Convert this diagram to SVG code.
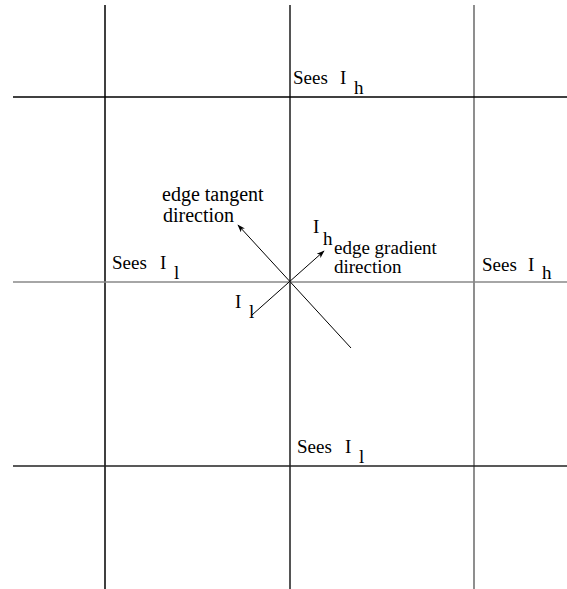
<svg xmlns="http://www.w3.org/2000/svg" width="567" height="589" viewBox="0 0 567 589">
<defs>
<style>
text{font-family:"Liberation Serif","Times New Roman",serif;font-size:19px;fill:#000}
.big{font-size:20px}
.ln{fill:none}
</style>
<marker id="ah" viewBox="0 0 10 10" refX="9" refY="5" markerWidth="8" markerHeight="8" orient="auto" markerUnits="userSpaceOnUse">
<path d="M0,1.5 L10,5 L0,8.5 L2.5,5 Z" fill="#000"/>
</marker>
</defs>
<rect width="567" height="589" fill="#fff"/>
<g id="grid" class="ln">
<line x1="105" y1="5" x2="105" y2="589" stroke="#000" stroke-width="1.5"/>
<line x1="290" y1="5" x2="290" y2="589" stroke="#555" stroke-width="2"/>
<line x1="474" y1="5" x2="474" y2="589" stroke="#444" stroke-width="1.2"/>
<line x1="13" y1="97" x2="567" y2="97" stroke="#000" stroke-width="1.5"/>
<line x1="13" y1="282" x2="567" y2="282" stroke="#888" stroke-width="1.5"/>
<line x1="13" y1="466" x2="567" y2="466" stroke="#222" stroke-width="1.5"/>
</g>
<g id="connectors" class="ln" stroke="#000" stroke-width="1">
<line x1="351" y1="348" x2="238" y2="225" marker-end="url(#ah)"/>
<line x1="252" y1="315" x2="324" y2="251" marker-end="url(#ah)"/>
</g>
<g id="label-top"><text x="293" y="84">Sees</text><text x="340" y="84">I</text><text x="354" y="94">h</text></g>
<g id="label-left"><text x="112" y="269">Sees</text><text x="160" y="269">I</text><text x="174" y="279">l</text></g>
<g id="label-right"><text x="482" y="271">Sees</text><text x="528" y="271">I</text><text x="542" y="279">h</text></g>
<g id="label-bottom"><text x="297" y="453">Sees</text><text x="345" y="453">I</text><text x="359" y="463">l</text></g>
<g id="tangent-label"><text class="big" x="162" y="201">edge tangent</text><text class="big" x="163" y="222">direction</text></g>
<g id="gradient-label"><text x="334" y="254">edge gradient</text><text x="334" y="273">direction</text></g>
<g id="ih-label"><text x="313" y="233">I</text><text x="323" y="245">h</text></g>
<g id="il-label"><text x="235" y="308">I</text><text x="249" y="318">l</text></g>
</svg>
